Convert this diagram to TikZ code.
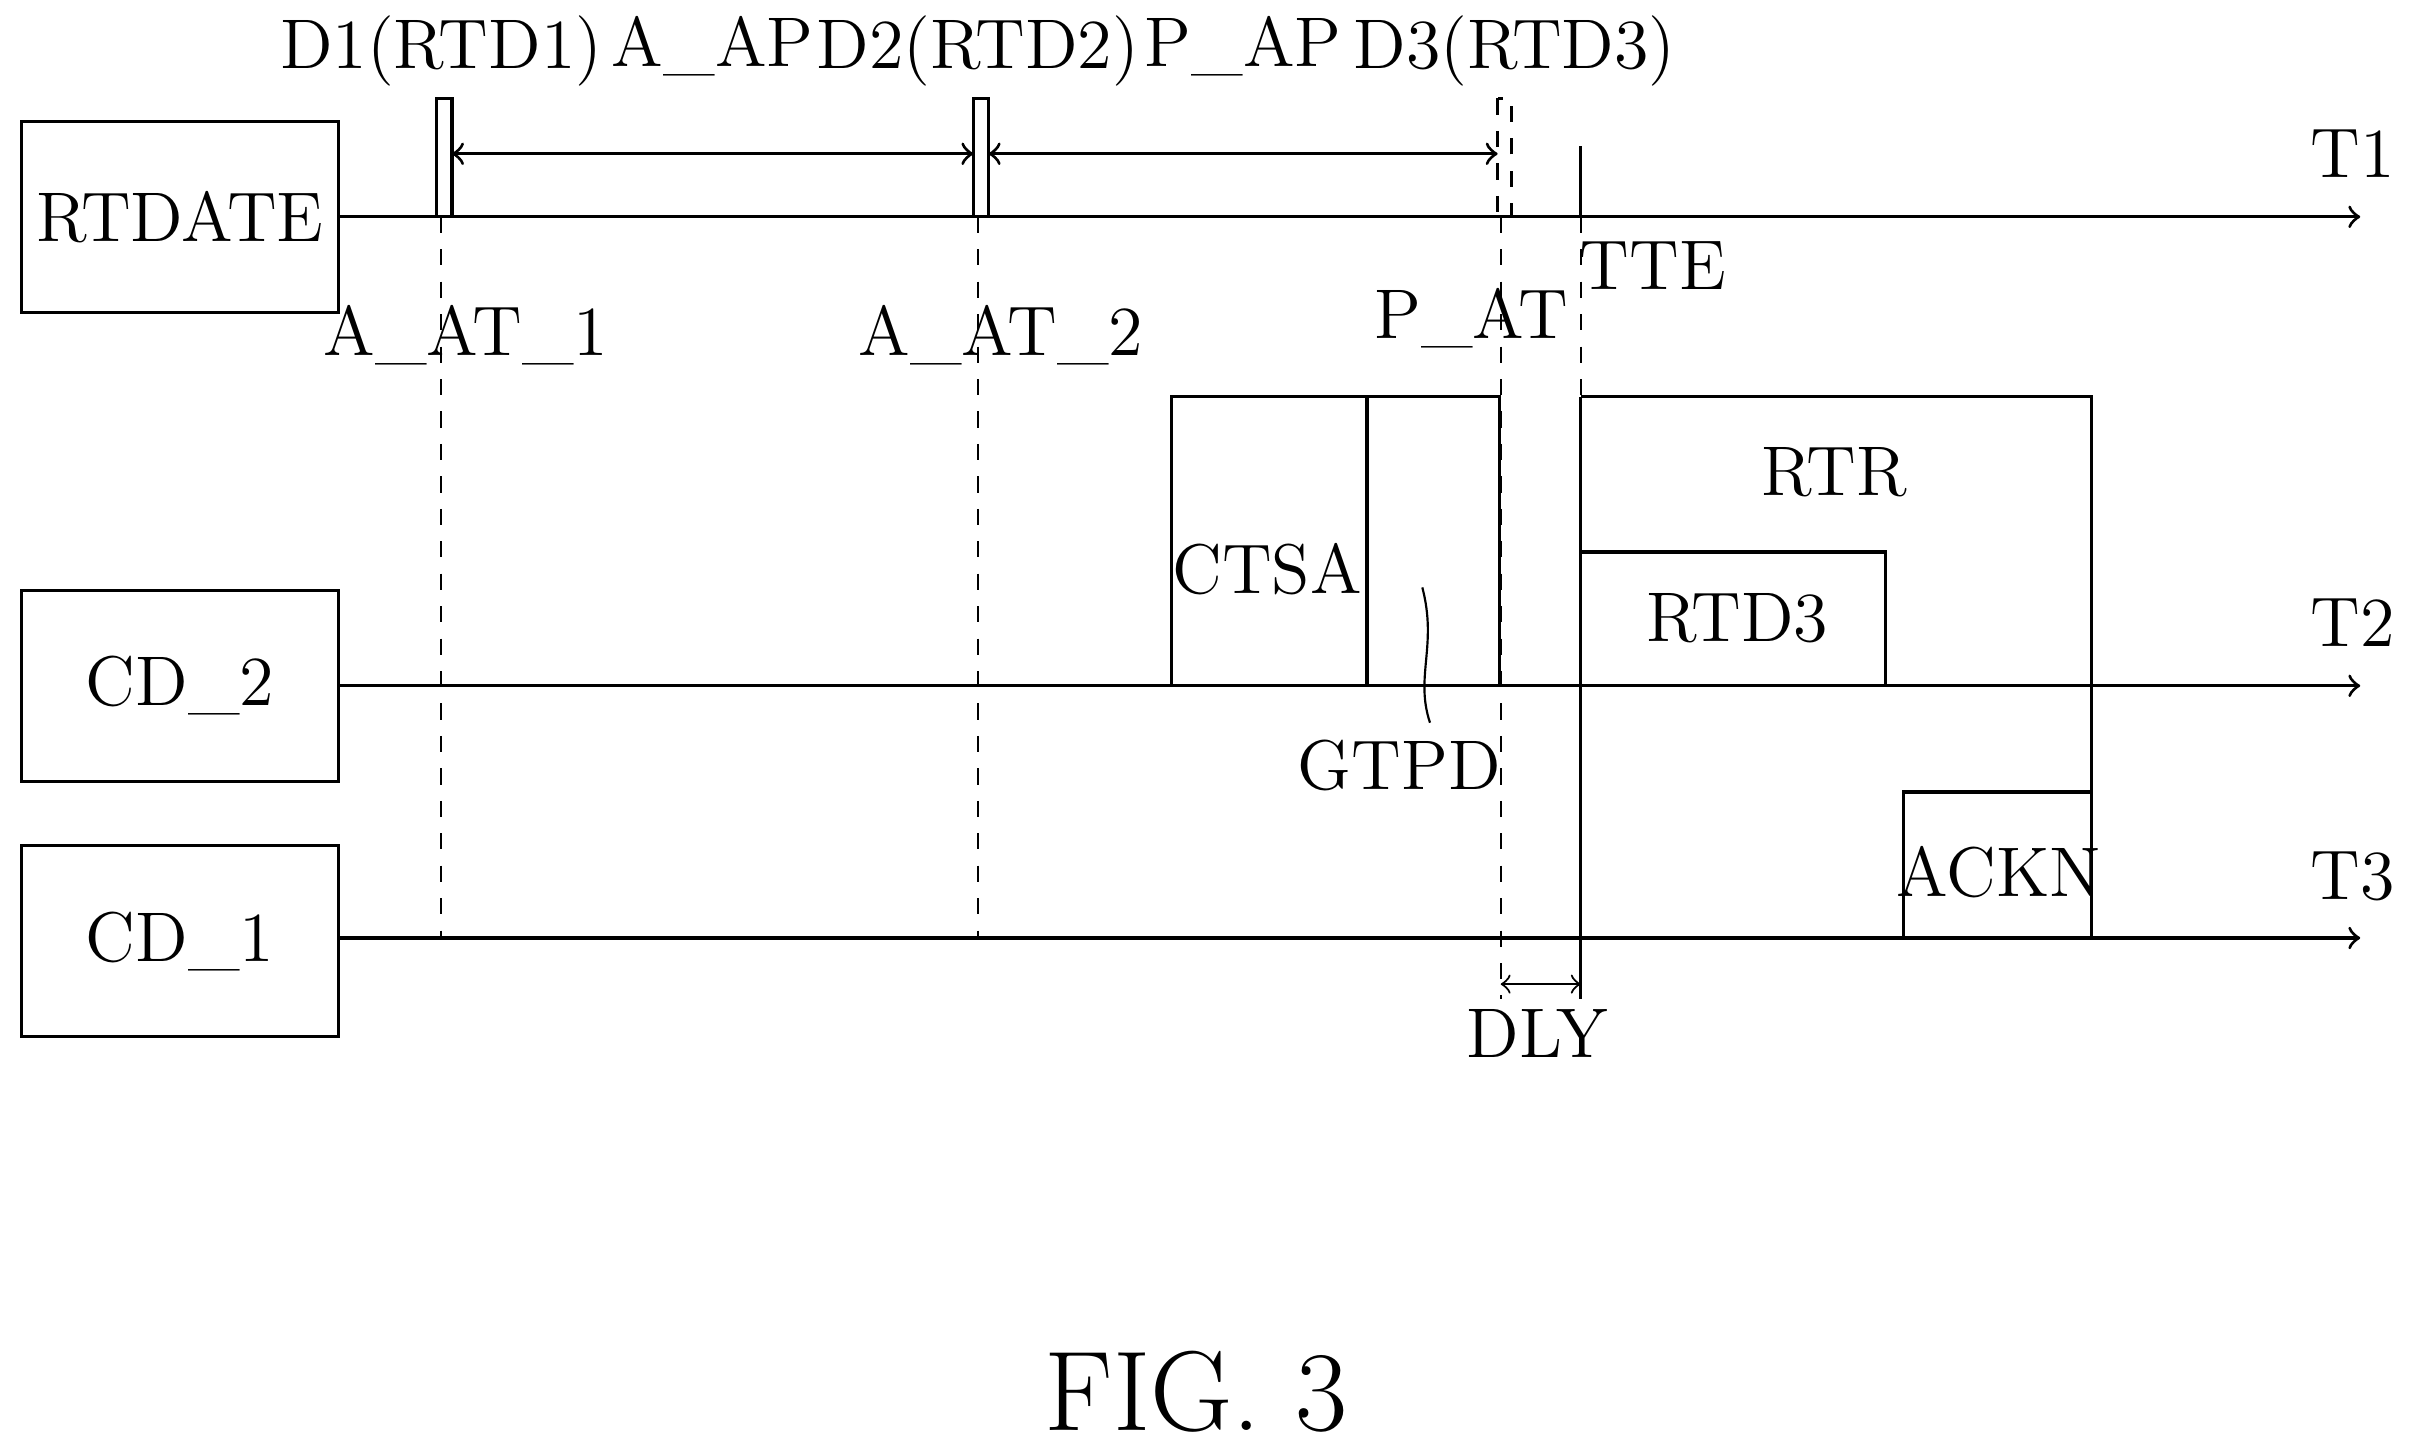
\documentclass[tikz,border=0pt]{standalone}
\usepackage{tikz}
\usetikzlibrary{arrows,positioning}
\begin{document}
\begin{tikzpicture}[x=0.01cm,y=-0.01cm,semithick,font=\fontsize{13}{15}\selectfont]
  \tikzstyle{unit}=[draw,minimum width=2.06cm,minimum height=1.24cm,inner sep=0pt]
  \tikzstyle{axis}=[->,>=to]
  \tikzstyle{guide}=[dashed,thin]
  \tikzstyle{lbl}=[inner sep=0pt]
	\useasboundingbox (0,0) rectangle (1568,944);
	% units and time axes
	\node[unit] (rtdate) at (117,141) {RTDATE};
	\node[unit] (cd2) at (117,446) {CD\_2};
	\node[unit] (cd1) at (117,612) {CD\_1};
	\coordinate (e1) at (1535,141);
	\coordinate (e2) at (1535,446);
	\coordinate (e3) at (1535,610);
	\draw[axis] (rtdate.east |- e1) -- (e1);
	\draw[axis] (cd2.east |- e2) -- (e2);
	\draw[axis] (cd1.east |- e3) -- (e3);
	\node[lbl] (t1) at (1530,100) {T1};
	\node[lbl] (t2) at (1530,405) {T2};
	\node[lbl] (t3) at (1530,570) {T3};
	% data bars
	\draw (284,64) rectangle (294,141);
	\draw (633,64) rectangle (643,141);
	\draw[dashed] (974,64) rectangle (983,141);
	\node[lbl] (d1) at (287,33) {D1(RTD1)};
	\node[lbl] (d2) at (636,33) {D2(RTD2)};
	\node[lbl] (d3) at (985,33) {D3(RTD3)};
	\coordinate (b1) at (294,100);
	\coordinate (b2) at (633,100);
	\coordinate (b3) at (643,100);
	\coordinate (b4) at (974,100);
	\draw[<->,>=to] (b1) -- node[lbl,above=14pt] {A\_AP} (b2);
	\draw[<->,>=to] (b3) -- node[lbl,above=14pt] {P\_AP} (b4);
	\draw[guide] (287,141) -- (287,610);
	\draw[guide] (636,141) -- (636,610);
	\draw[guide] (976,141) -- (976,650);
	\node[lbl] (aat1) at (303,218) {A\_AT\_1};
	\node[lbl] (aat2) at (651,218) {A\_AT\_2};
	\node[lbl] (pat) at (957,207) {P\_AT};
	% TTE
	\draw (1028,95) -- (1028,141);
	\draw[guide] (1028,141) -- (1028,258);
	\draw (1028,258) -- (1028,650);
	\node[lbl] (tte) at (1075,173) {TTE};
	% frames
	\draw (762,446) rectangle (889,258);
	\draw (889,446) -- (889,258) -- (975,258) -- (975,446);
	\node[lbl] (ctsa) at (824,370) {CTSA};
	\node[lbl] (gtpd) at (910,498) {GTPD};
	\draw[thin] (925,382) .. controls (935,420) and (920,440) .. (930,470);
	\draw (1028,258) -- (1360,258) -- (1360,610);
	\node[lbl] (rtr) at (1193,307) {RTR};
	\draw (1028,359) -- (1226,359) -- (1226,446);
	\node[lbl] (rtd3) at (1130,402) {RTD3};
	\draw (1238,610) -- (1238,515) -- (1360,515);
	\node[lbl] (ackn) at (1300,567) {ACKN};
	% delay
	\coordinate (g1) at (976,640);
	\coordinate (g2) at (1028,640);
	\draw[<->,>=to,thin] (g1) -- (g2);
	\node[lbl] (dly) at (1000,672) {DLY};
	\node[lbl,font=\fontsize{21}{24}\selectfont] (fig) at (778,905) {FIG. 3};
\end{tikzpicture}
\end{document}
